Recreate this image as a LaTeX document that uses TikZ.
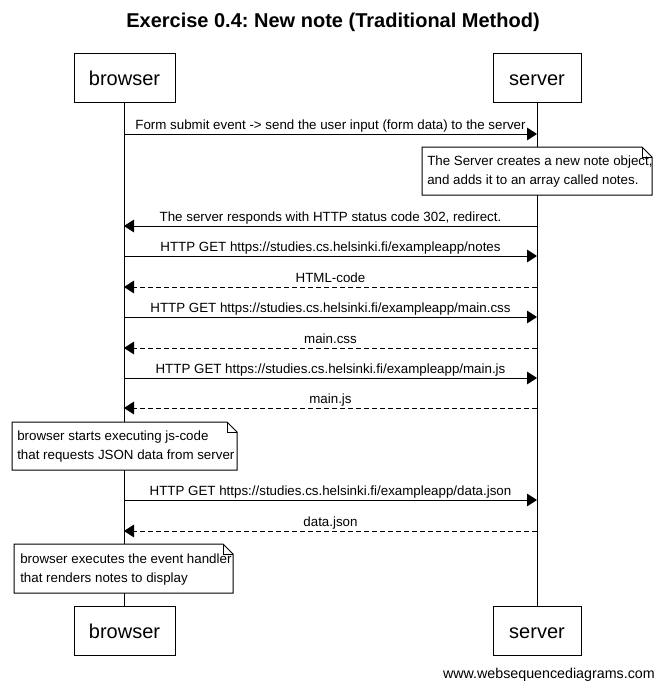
\documentclass[tikz,border=0pt]{standalone}
\usepackage{fontspec}
\setmainfont{Liberation Sans}
\usetikzlibrary{arrows.meta}
\frenchspacing
\begin{document}
\begin{tikzpicture}[x=0.75pt,y=-0.75pt,
  actor/.style={draw, line width=0.75pt, minimum height=36.75pt, inner sep=0pt, text height=15pt, text depth=3pt, font=\fontsize{15}{18}\selectfont},
  msg/.style={line width=0.75pt, -{Triangle[length=7.5pt,width=9.5pt]}},
  reply/.style={msg, dash pattern=on 3.75pt off 2.25pt},
  lbl/.style={font=\fontsize{10}{12}\selectfont, inner sep=0pt, anchor=base, yshift=3.2pt},
  notebox/.style={draw, fill=white, line width=0.75pt},
  notetext/.style={font=\fontsize{10}{14.25}\selectfont, align=left, inner sep=0pt},
  life/.style={line width=0.75pt}]
\useasboundingbox (0,0) rectangle (662,689);

\node[font=\bfseries\fontsize{15}{18}\selectfont] (title) at (333,22) {Exercise 0.4: New note (Traditional Method)};

\node[actor, minimum width=75.75pt] (bt) at (124.5,77.5) {browser};
\node[actor, minimum width=66pt] (st) at (537,77.5) {server};
\node[actor, minimum width=75.75pt] (bb) at (124.5,630.5) {browser};
\node[actor, minimum width=66pt] (sb) at (537,630.5) {server};

\draw[life] (bt.south) -- (bb.north);
\draw[life] (st.south) -- (sb.north);

% coordinates on lifelines
\foreach \n/\y in {1/134,2/226,3/256,4/287,5/317,6/348,7/378,8/408,9/500,10/531}{
  \coordinate (b\n) at (124,\y);
  \coordinate (s\n) at (537,\y);
}

\draw[msg] (b1) -- node[lbl]{Form submit event -> send the user input (form data) to the server} (s1);

% note 1
\draw[notebox] (422,147) -- (642,147) -- (652,157) -- (652,195) -- (422,195) -- cycle;
\draw[line width=0.75pt] (642,147) -- (642,157) -- (652,157);
\node[notetext, anchor=west] (n1) at (427,172) {The Server creates a new note object,\\and adds it to an array called notes.};

\draw[msg] (s2) -- node[lbl]{The server responds with HTTP status code 302, redirect.} (b2);
\draw[msg] (b3) -- node[lbl]{HTTP GET https://studies.cs.helsinki.fi/exampleapp/notes} (s3);
\draw[reply] (s4) -- node[lbl]{HTML-code} (b4);
\draw[msg] (b5) -- node[lbl]{HTTP GET https://studies.cs.helsinki.fi/exampleapp/main.css} (s5);
\draw[reply] (s6) -- node[lbl]{main.css} (b6);
\draw[msg] (b7) -- node[lbl]{HTTP GET https://studies.cs.helsinki.fi/exampleapp/main.js} (s7);
\draw[reply] (s8) -- node[lbl]{main.js} (b8);

% note 2
\draw[notebox] (12,422) -- (227,422) -- (237,432) -- (237,470) -- (12,470) -- cycle;
\draw[line width=0.75pt] (227,422) -- (227,432) -- (237,432);
\node[notetext, anchor=west] (n2) at (17,447) {browser starts executing js-code\\that requests JSON data from server};

\draw[msg] (b9) -- node[lbl]{HTTP GET https://studies.cs.helsinki.fi/exampleapp/data.json} (s9);
\draw[reply] (s10) -- node[lbl]{data.json} (b10);

% note 3
\draw[notebox] (14,544) -- (223,544) -- (233,554) -- (233,593) -- (14,593) -- cycle;
\draw[line width=0.75pt] (223,544) -- (223,554) -- (233,554);
\node[notetext, anchor=west] (n3) at (20,569.5) {browser executes the event handler\\that renders notes to display};

\node[font=\fontsize{10.7}{13}\selectfont, anchor=east, inner sep=0pt] (foot) at (655,675) {www.websequencediagrams.com};
\end{tikzpicture}
\end{document}
